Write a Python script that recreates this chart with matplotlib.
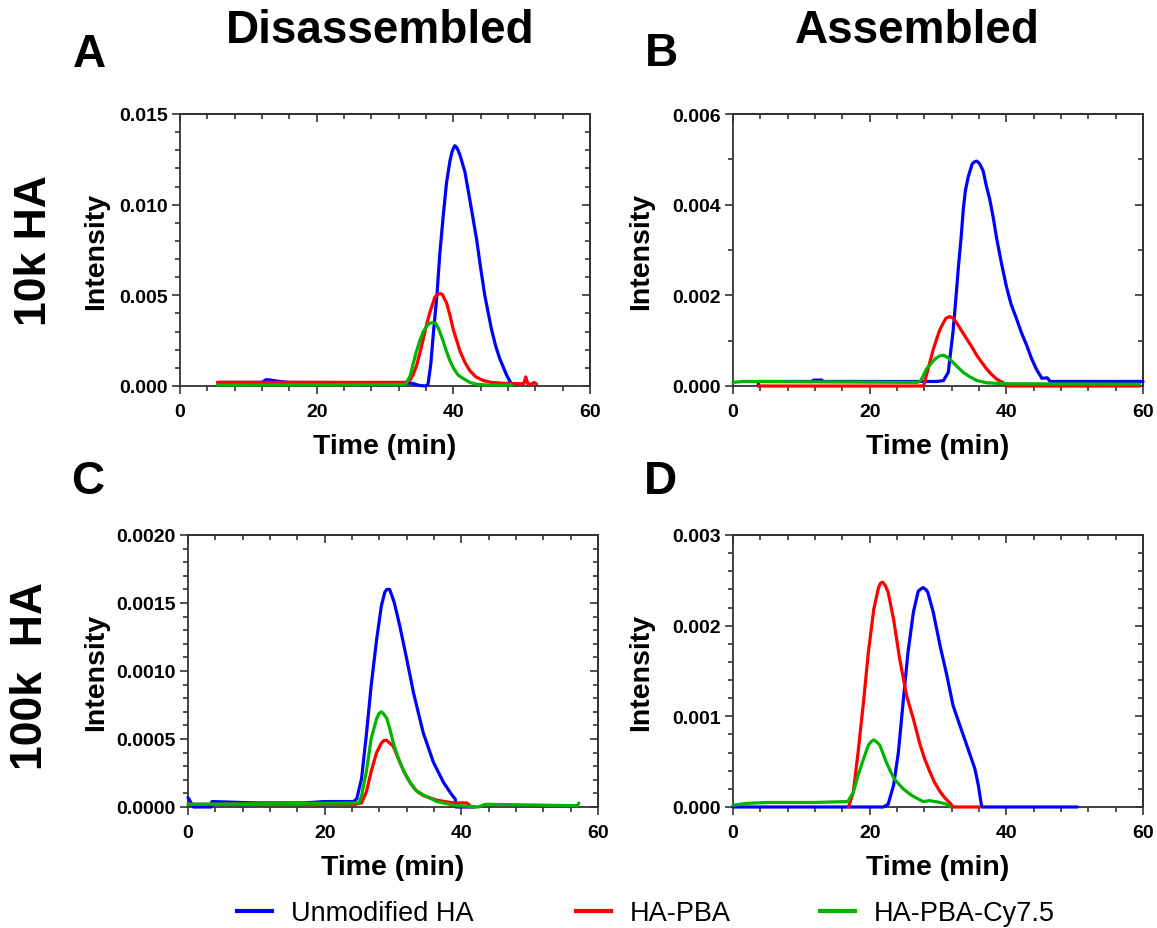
import matplotlib
matplotlib.use("Agg")
import matplotlib.pyplot as plt
from matplotlib.ticker import MultipleLocator
from matplotlib.lines import Line2D

plt.rcParams['font.family'] = ['Liberation Sans', 'DejaVu Sans']

# ---------------- data ----------------
series_names = ["Unmodified HA", "HA-PBA", "HA-PBA-Cy7.5"]
series_colors = ["#0000ff", "#ff0000", "#00b400"]

x_ticks = [0, 20, 40, 60]
x_tick_labels = ["0", "20", "40", "60"]

# Panel A: Disassembled, 10k HA
a_blue_t = [5.5, 12.0, 12.6, 13.2, 14.5, 16.0, 30.0, 34.0, 35.0, 36.0, 36.3, 36.7, 37.1, 37.6, 38.0, 38.5,
            39.0, 39.5, 39.8, 40.0, 40.2, 40.4, 40.7, 41.0, 41.7, 42.4, 43.4, 44.0, 44.6, 45.6, 46.2,
            46.8, 47.8, 48.5]
a_blue_i = [0.0002, 0.0002, 0.00035, 0.00033, 0.00025, 0.0002, 0.00018, 0.00015, 0.00003, 0.0, 0.0001,
            0.0012, 0.0030, 0.0050, 0.0072, 0.0093, 0.0112, 0.0124, 0.0129, 0.0131, 0.01325, 0.0132,
            0.0130, 0.0127, 0.0118, 0.0103, 0.0081, 0.0065, 0.0050, 0.0031, 0.0022, 0.0015, 0.0006, 0.0001]
a_red_t = [5.5, 33.0, 33.6, 34.1, 34.6, 35.1, 35.6, 36.1, 36.6, 37.3, 37.7, 38.1, 38.4, 38.7, 39.0, 39.5,
           40.0, 40.5, 41.0, 41.7, 42.4, 43.3, 44.4, 45.5, 47.3, 50.3, 50.6, 50.9, 51.5, 51.8, 52.2]
a_red_i = [0.0002, 0.0002, 0.0003, 0.0006, 0.0011, 0.0018, 0.0026, 0.0034, 0.0041, 0.0049, 0.00505,
           0.0051, 0.00505, 0.0048, 0.0046, 0.0039, 0.0031, 0.0025, 0.0019, 0.0013, 0.00085, 0.0005,
           0.0003, 0.0002, 0.00015, 0.00012, 0.0005, 0.00012, 0.0001, 0.0002, 0.0001]
a_green_t = [5.5, 33.0, 33.7, 34.1, 34.6, 35.1, 35.6, 36.3, 36.7, 37.1, 37.4, 37.8, 38.4, 39.0, 39.5,
             40.0, 40.7, 41.5, 42.4, 43.4, 45.0, 48.5]
a_green_i = [0.00005, 0.00008, 0.00057, 0.0012, 0.0019, 0.0025, 0.0030, 0.0034, 0.00348, 0.0035,
             0.00345, 0.0032, 0.0026, 0.0019, 0.0014, 0.0010, 0.0006, 0.0004, 0.0002, 0.0001, 0.00005,
             0.00005]

# Panel B: Assembled, 10k HA
b_blue_t = [3.7, 3.7, 11.5, 11.8, 13.0, 13.2, 29.8, 30.8, 31.5, 32.2, 32.6, 33.0, 33.4, 33.7, 34.0, 34.4,
            35.0, 35.4, 35.7, 36.1, 36.6, 37.1, 37.6, 38.1, 38.6, 39.3, 40.0, 40.7, 41.5, 42.2, 43.0,
            43.7, 44.4, 45.2, 46.0, 46.4, 60.0]
b_blue_i = [0.0, 0.0001, 0.0001, 0.00013, 0.00013, 0.0001, 0.0001, 0.00012, 0.0003, 0.0012, 0.0019,
            0.00265, 0.0033, 0.0039, 0.0043, 0.0046, 0.0049, 0.00495, 0.00496, 0.0049, 0.00475, 0.0044,
            0.0041, 0.0037, 0.00324, 0.0027, 0.0022, 0.0018, 0.00148, 0.00118, 0.00089, 0.0006, 0.00037,
            0.00017, 0.00018, 0.0001, 0.0001]
b_red_t = [3.7, 27.9, 28.8, 29.3, 29.8, 30.3, 30.8, 31.2, 31.7, 32.2, 32.7, 33.4, 34.2, 35.0, 35.7, 36.4,
           37.1, 37.8, 38.6, 39.2, 39.8, 40.1, 40.1, 59.5]
b_red_i = [0.0, 0.0, 0.00052, 0.0008, 0.00104, 0.00125, 0.0014, 0.0015, 0.00153, 0.0015, 0.0014, 0.00123,
           0.00104, 0.00085, 0.00067, 0.00052, 0.00038, 0.00026, 0.00015, 0.0001, 0.00005, 0.00003, 0.0,
           0.0]
b_green_t = [0.0, 1.5, 27.0, 27.5, 28.3, 29.0, 29.6, 30.2, 30.8, 31.5, 32.2, 33.0, 33.7, 34.7, 35.7, 37.1,
             40.0, 59.5]
b_green_i = [0.00008, 0.0001, 0.00008, 0.00012, 0.00037, 0.0005, 0.0006, 0.00066, 0.00068, 0.00062,
             0.00052, 0.0004, 0.0003, 0.0002, 0.00012, 0.00007, 0.00005, 0.00004]

# Panel C: Disassembled, 100k HA
c_blue_t = [0.0, 0.8, 3.4, 3.5, 10.0, 17.0, 20.0, 24.2, 24.7, 25.4, 26.1, 26.8, 27.6, 28.3, 28.8, 29.1,
            29.5, 29.8, 30.2, 31.0, 32.0, 33.0, 34.4, 35.9, 37.4, 38.6, 39.1, 39.2, 42.0]
c_blue_i = [0.00007, 0.0, 0.0, 0.00004, 0.00003, 0.00003, 0.00004, 0.00004, 0.00006, 0.00021, 0.00053,
            0.00089, 0.00123, 0.00148, 0.00158, 0.0016, 0.0016, 0.00156, 0.0015, 0.00133, 0.00109,
            0.00084, 0.00055, 0.00033, 0.00018, 0.00009, 0.00006, 0.0, 0.0]
c_red_t = [0.0, 24.5, 25.4, 26.1, 26.8, 27.6, 28.3, 28.7, 29.1, 29.5, 30.0, 30.5, 31.0, 31.7, 32.5, 33.4,
           34.4, 36.4, 38.8, 40.8, 41.5]
c_red_i = [0.00002, 0.00002, 0.00003, 0.00011, 0.00026, 0.0004, 0.00047, 0.00049, 0.00049, 0.00047,
           0.00045, 0.00039, 0.00033, 0.00025, 0.00018, 0.00012, 0.000085, 0.00005, 0.00003, 0.00003,
           0.0]
c_green_t = [0.0, 25.0, 25.4, 26.1, 26.8, 27.6, 28.0, 28.3, 28.7, 29.1, 29.5, 30.0, 30.5, 31.0, 31.7,
             32.5, 33.4, 34.4, 36.4, 39.3, 42.5, 43.5, 57.0, 57.2]
c_green_i = [0.00002, 0.00003, 0.00008, 0.00026, 0.0005, 0.00065, 0.00069, 0.0007, 0.00068, 0.00065,
             0.00058, 0.00048, 0.0004, 0.00033, 0.00025, 0.00018, 0.00012, 0.00009, 0.00004, 0.00001,
             0.0, 0.00002, 0.00001, 0.00003]

# Panel D: Assembled, 100k HA
d_blue_t = [0.0, 22.0, 22.7, 23.5, 24.2, 24.9, 25.6, 26.4, 27.1, 27.4, 27.8, 28.2, 28.5, 29.3, 30.3, 31.3,
            32.2, 33.2, 34.4, 35.4, 35.9, 36.4, 50.4]
d_blue_i = [0.0, 0.0, 0.00003, 0.00024, 0.0006, 0.00116, 0.0017, 0.00215, 0.00238, 0.0024, 0.00242,
            0.0024, 0.00237, 0.00215, 0.00178, 0.00145, 0.00112, 0.0009, 0.00064, 0.00042, 0.00024, 0.0,
            0.0]
d_red_t = [16.9, 17.6, 18.3, 19.1, 19.8, 20.6, 21.3, 21.6, 21.9, 22.3, 22.7, 23.5, 24.4, 25.4, 26.4, 27.4,
           28.1, 28.8, 29.5, 30.3, 31.0, 31.8, 32.2, 36.1]
d_red_i = [0.0, 0.00016, 0.0006, 0.00116, 0.0017, 0.00218, 0.00242, 0.00247, 0.00248, 0.00244, 0.00237,
           0.00207, 0.00163, 0.00123, 0.00097, 0.00068, 0.00052, 0.00039, 0.00027, 0.00017, 0.0001,
           0.00004, 0.0, 0.0]
d_green_t = [0.0, 2.0, 5.0, 12.0, 16.8, 17.6, 18.3, 19.1, 19.8, 20.2, 20.6, 21.0, 21.5, 22.4, 23.0, 23.6,
             24.9, 26.1, 27.8, 28.8, 30.3, 31.3, 31.8]
d_green_i = [0.00002, 0.00004, 0.00005, 0.00005, 0.00006, 0.00016, 0.00035, 0.00053, 0.00068, 0.00072,
             0.00074, 0.00072, 0.00068, 0.0005, 0.0004, 0.00031, 0.0002, 0.00013, 0.00006, 0.00007,
             0.00005, 0.00003, 0.0]

a_yticks = [0.0, 0.005, 0.010, 0.015]
a_ylabels = ["0.000", "0.005", "0.010", "0.015"]
b_yticks = [0.0, 0.002, 0.004, 0.006]
b_ylabels = ["0.000", "0.002", "0.004", "0.006"]
c_yticks = [0.0, 0.0005, 0.0010, 0.0015, 0.0020]
c_ylabels = ["0.0000", "0.0005", "0.0010", "0.0015", "0.0020"]
d_yticks = [0.0, 0.001, 0.002, 0.003]
d_ylabels = ["0.000", "0.001", "0.002", "0.003"]

# ---------------- figure ----------------
W, H = 1157, 929
fig = plt.figure(figsize=(W / 100, H / 100), dpi=100)

spine_c = "#333333"


def px_rect(left, top, right, bottom):
    return [left / W, 1 - bottom / H, (right - left) / W, (bottom - top) / H]


def make_panel(rect, series, yticks, ylabels, yminor, ylab_x):
    ax = fig.add_axes(rect)
    for (t, i), col in zip(series, series_colors):
        ax.plot(t, i, color=col, lw=2.3, clip_on=False, zorder=3,
                solid_joinstyle='round', solid_capstyle='round')
    ax.set_xlim(0, 60)
    ax.set_ylim(yticks[0], yticks[-1])
    ax.set_xticks(x_ticks)
    ax.set_xticklabels(x_tick_labels)
    ax.set_yticks(yticks)
    ax.set_yticklabels(ylabels)
    ax.xaxis.set_minor_locator(MultipleLocator(4))
    ax.yaxis.set_minor_locator(MultipleLocator(yminor))
    ax.tick_params(which='both', direction='out', color=spine_c, width=1.2, top=False, right=False)
    ax.tick_params(which='major', length=6, labelsize=14)
    ax.tick_params(which='minor', length=3.5)
    ax.tick_params(axis='x', which='major', pad=6)
    ax.tick_params(axis='y', which='major', pad=3)
    for lab in ax.get_xticklabels() + ax.get_yticklabels():
        lab.set_fontweight('bold')
    for s in ax.spines.values():
        s.set_color(spine_c)
        s.set_linewidth(1.3)
    # inward mirror ticks on top and right
    sx = ax.secondary_xaxis('top')
    sx.set_xticks(x_ticks)
    sx.xaxis.set_minor_locator(MultipleLocator(4))
    sx.tick_params(which='both', direction='in', labeltop=False, color=spine_c, width=1.2)
    sx.tick_params(which='major', length=6)
    sx.tick_params(which='minor', length=3.5)
    sx.spines['top'].set_color(spine_c)
    sx.spines['top'].set_linewidth(1.3)
    sy = ax.secondary_yaxis('right')
    sy.set_yticks(yticks)
    sy.yaxis.set_minor_locator(MultipleLocator(yminor))
    sy.tick_params(which='both', direction='in', labelright=False, color=spine_c, width=1.2)
    sy.tick_params(which='major', length=6)
    sy.tick_params(which='minor', length=3.5)
    sy.spines['right'].set_color(spine_c)
    sy.spines['right'].set_linewidth(1.3)

    ax.set_xlabel("Time (min)", fontsize=20.5, fontweight='bold', va='center', ha='center')
    ax.xaxis.set_label_coords(0.5, -0.22)
    ax.set_ylabel("Intensity", fontsize=20.5, fontweight='bold', va='center', ha='center')
    ax.yaxis.set_label_coords(ylab_x, 0.5)
    return ax


make_panel(px_rect(180, 115, 590, 387),
           [(a_blue_t, a_blue_i), (a_red_t, a_red_i), (a_green_t, a_green_i)],
           a_yticks, a_ylabels, 0.001, -0.205)
make_panel(px_rect(733, 115, 1143, 387),
           [(b_blue_t, b_blue_i), (b_red_t, b_red_i), (b_green_t, b_green_i)],
           b_yticks, b_ylabels, 0.001, -0.224)
make_panel(px_rect(188, 536, 598, 808),
           [(c_blue_t, c_blue_i), (c_red_t, c_red_i), (c_green_t, c_green_i)],
           c_yticks, c_ylabels, 0.0001, -0.224)
make_panel(px_rect(733, 536, 1143, 808),
           [(d_blue_t, d_blue_i), (d_red_t, d_red_i), (d_green_t, d_green_i)],
           d_yticks, d_ylabels, 0.0002, -0.224)

# titles, panel letters, row labels
fig.text(380 / W, 1 - 31 / H, "Disassembled", fontsize=33, fontweight='bold', ha='center', va='center')
fig.text(917 / W, 1 - 31 / H, "Assembled", fontsize=33, fontweight='bold', ha='center', va='center')
for letter, (x, y) in zip("ABCD", [(89, 55), (661, 54), (88, 482), (660, 482)]):
    fig.text(x / W, 1 - y / H, letter, fontsize=33, fontweight='bold', ha='center', va='center')
fig.text(35 / W, 1 - 251 / H, "10k HA", fontsize=32, fontweight='bold', rotation=90, ha='center', va='center')
fig.text(31 / W, 1 - 676 / H, "100k  HA", fontsize=32, fontweight='bold', rotation=90, ha='center', va='center')

# legend: one entry per block
for name, col, xs in zip(series_names, series_colors, [237, 576, 820]):
    h = Line2D([], [], color=col, lw=3)
    fig.legend([h], [name], loc='center left', bbox_to_anchor=(xs / W, 1 - 914 / H), frameon=False,
               fontsize=19.5, handlelength=1.3, handletextpad=0.7, borderpad=0, borderaxespad=0)

fig.savefig("out.png", dpi=100)
